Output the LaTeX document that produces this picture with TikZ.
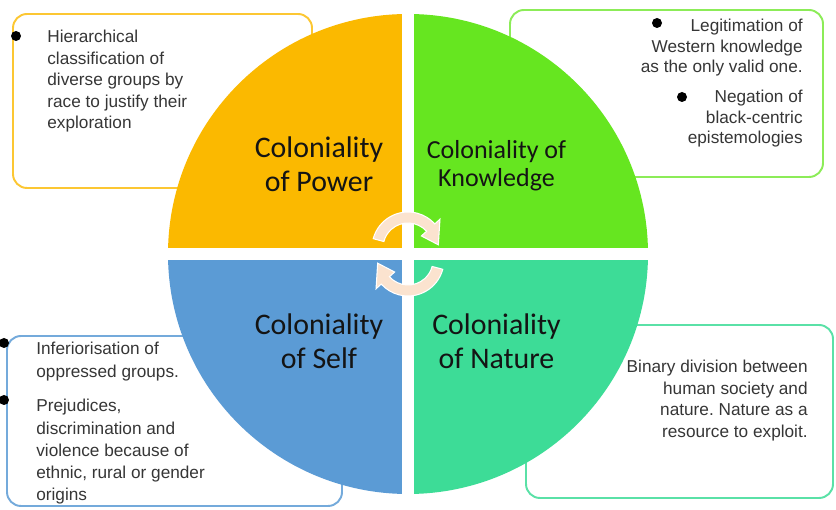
\documentclass[tikz,border=0pt]{standalone}
\usepackage{fontspec}
\setmainfont{Liberation Sans}
\newfontfamily\quadfont{Carlito}
\frenchspacing
\definecolor{ink}{HTML}{141414}
\definecolor{note}{HTML}{363636}
\definecolor{power}{HTML}{FBB900}
\definecolor{knowledge}{HTML}{66E620}
\definecolor{self}{HTML}{5B9BD5}
\definecolor{nature}{HTML}{3DDC97}
\definecolor{peach}{HTML}{FBE3CF}

\begin{document}
\begin{tikzpicture}[
    box/.style={rounded corners=0.28cm, line width=1.1pt, fill=white},
    notes/.style={font=\fontsize{9.8}{12.2}\selectfont, text=note, inner sep=0pt, text width=4.2cm},
    quad/.style={font=\quadfont\fontsize{17}{18.8}\selectfont, text=ink, inner sep=0pt,
                 text width=5cm, align=flush center, anchor=base},
    turn/.style={fill=peach, draw=white, line width=0.6pt}]
  % fixed canvas
  \path[use as bounding box] (0,0) rectangle (16.72,10.2);
  \def\cx{8.16} \def\cy{5.12} \def\R{4.8}

  % ================= note boxes (behind the wheel) =================
  \draw[box, draw=power!80] (0.26,6.44) rectangle (6.24,9.92);
  \draw[box, draw=knowledge!75] (10.20,6.66) rectangle (16.46,10.00);
  \draw[box, draw=self!85] (0.14,0.08) rectangle (6.84,3.48);
  \draw[box, draw=nature!85] (10.52,0.24) rectangle (16.66,3.70);

  % ================= wheel =================
  \foreach \a/\c in {0/knowledge, 90/power, 180/self, 270/nature}
    \fill[\c] (\cx,\cy) -- ++(\a:\R) arc[start angle=\a, delta angle=90, radius=\R] -- cycle;
  % white cross between the quarters
  \draw[white, line width=0.24cm] (\cx,\cy-\R-0.05) -- (\cx,\cy+\R+0.05)
        (\cx-\R-0.05,\cy) -- (\cx+\R+0.05,\cy);

  % two turning arrows in the middle
  \foreach \s/\r in {0.12/0, -0.12/180}
    \path[turn, shift={(\cx,\cy+\s)}, rotate=\r]
      (165:0.72) arc[start angle=165, end angle=42, radius=0.72] -- (42:0.86) -- (6:0.61)
      -- (42:0.36) -- (42:0.50) arc[start angle=42, end angle=165, radius=0.50] -- cycle;

  \node[quad] (cpower) at (6.38,7.04) {Coloniality\\of Power};
  \node[quad, font=\quadfont\fontsize{14.8}{15.9}\selectfont] (cknow) at (9.93,7.02) {Coloniality of\\Knowledge};
  \node[quad] (cself) at (6.38,3.50) {Coloniality\\of Self};
  \node[quad] (cnature) at (9.93,3.50) {Coloniality\\of Nature};

  % ================= notes =================
  \fill (0.32,9.48) circle (0.1);
  \node[notes, anchor=base west, align=flush left] (hier) at (0.94,9.34)
    {Hierarchical\\classification of\\diverse groups by\\race to justify their\\exploration};

  \fill (13.14,9.74) circle (0.1);
  \fill (13.64,8.26) circle (0.1);
  \node[notes, anchor=base east, align=flush right, font=\fontsize{9.8}{11.6}\selectfont] (legit) at (16.06,9.56)
    {Legitimation of\\Western knowledge\\as the only valid one.};
  \node[notes, anchor=base east, align=flush right, font=\fontsize{9.8}{11.6}\selectfont] (negat) at (16.06,8.14)
    {Negation of\\black-centric\\epistemologies};

  \fill (0.08,3.34) circle (0.1);
  \fill (0.08,2.20) circle (0.1);
  \node[notes, anchor=base west, align=flush left, font=\fontsize{9.8}{12.6}\selectfont] (infer) at (0.72,3.10)
    {Inferiorisation of\\oppressed groups.};
  \node[notes, anchor=base west, align=flush left, font=\fontsize{9.8}{12.6}\selectfont] (prejud) at (0.72,1.96)
    {Prejudices,\\discrimination and\\violence because of\\ethnic, rural or gender\\origins};

  \node[notes, anchor=base east, align=flush right] (binary) at (16.16,2.74)
    {Binary division between\\human society and\\nature. Nature as a\\resource to exploit.};
\end{tikzpicture}
\end{document}
